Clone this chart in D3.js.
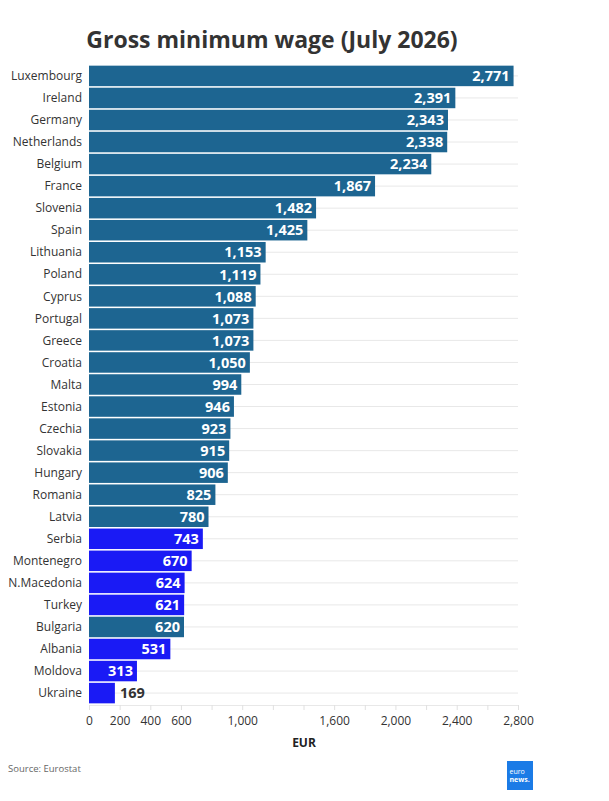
<!DOCTYPE html>
<html>
<head>
<meta charset="utf-8">
<script src="https://cdn.jsdelivr.net/npm/d3@7"></script>
<style>
  body { margin: 0; background: #fff; }
  text { font-family: "Open Sans", sans-serif; }
</style>
</head>
<body>
<svg></svg>
<script>
// chart data
var countries = ["Luxembourg", "Ireland", "Germany", "Netherlands", "Belgium", "France", "Slovenia", "Spain",
  "Lithuania", "Poland", "Cyprus", "Portugal", "Greece", "Croatia", "Malta", "Estonia", "Czechia", "Slovakia",
  "Hungary", "Romania", "Latvia", "Serbia", "Montenegro", "N.Macedonia", "Turkey", "Bulgaria", "Albania",
  "Moldova", "Ukraine"];
var wages = [2771, 2391, 2343, 2338, 2234, 1867, 1482, 1425, 1153, 1119, 1088, 1073, 1073, 1050, 994, 946,
  923, 915, 906, 825, 780, 743, 670, 624, 621, 620, 531, 313, 169];
var nonEU = ["Serbia", "Montenegro", "N.Macedonia", "Turkey", "Albania", "Moldova", "Ukraine"];
var tickValues = [0, 200, 400, 600, 800, 1000, 1200, 1400, 1600, 1800, 2000, 2200, 2400, 2600, 2800];
var tickLabels = [0, 200, 400, 600, 1000, 1600, 2000, 2400, 2800];

var width = 609, height = 801;
var margin = {top: 65, right: 91, bottom: 97, left: 89};

var svg = d3.select("svg")
    .attr("width", width)
    .attr("height", height);

var data = countries.map(function(c, i) { return {country: c, wage: wages[i]}; });

var x = d3.scaleLinear()
    .domain([0, 2800])
    .range([margin.left, width - margin.right]);

var y = d3.scaleBand()
    .domain(countries)
    .range([margin.top, height - margin.bottom])
    .paddingInner(0.07)
    .paddingOuter(0.03);

var fmt = d3.format(",");

// title
svg.append("text")
    .attr("x", 272)
    .attr("y", 48)
    .attr("text-anchor", "middle")
    .style("font-size", "23px")
    .style("font-weight", "bold")
    .style("fill", "#333")
    .text("Gross minimum wage (July 2026)");

// horizontal grid lines
svg.append("g")
  .selectAll("line")
  .data(countries)
  .enter()
  .append("line")
    .attr("x1", x(0))
    .attr("x2", x(2800))
    .attr("y1", function(d) { return y(d) + y.bandwidth() / 2; })
    .attr("y2", function(d) { return y(d) + y.bandwidth() / 2; })
    .style("stroke", "#e8e8e8")
    .style("stroke-width", 1);

// x axis
var xAxis = d3.axisBottom(x)
    .tickValues(tickValues)
    .tickSize(5)
    .tickFormat(function(d) { return tickLabels.indexOf(d) >= 0 ? fmt(d) : ""; });

var gx = svg.append("g")
    .attr("transform", "translate(0," + (height - margin.bottom + 1) + ")")
    .call(xAxis);
gx.select(".domain").style("stroke", "#e8e8e8");
gx.selectAll(".tick line").style("stroke", "#e0e0e0");
gx.selectAll(".tick text")
    .attr("y", 11)
    .style("font-size", "12px")
    .style("fill", "#333")
    .style("font-family", "'Open Sans', sans-serif");

// bars
svg.append("g")
  .selectAll("rect")
  .data(data)
  .enter()
  .append("rect")
    .attr("x", x(0))
    .attr("y", function(d) { return y(d.country); })
    .attr("width", function(d) { return x(d.wage) - x(0); })
    .attr("height", y.bandwidth())
    .style("fill", function(d) { return nonEU.indexOf(d.country) >= 0 ? "#1a1af5" : "#1d6591"; });

// country labels
svg.append("g")
  .selectAll("text")
  .data(data)
  .enter()
  .append("text")
    .attr("x", x(0) - 7)
    .attr("y", function(d) { return y(d.country) + y.bandwidth() / 2; })
    .attr("dy", "0.35em")
    .attr("text-anchor", "end")
    .style("font-size", "12px")
    .style("fill", "#333")
    .text(function(d) { return d.country; });

// value labels
svg.append("g")
  .selectAll("text")
  .data(data)
  .enter()
  .append("text")
    .attr("x", function(d) { return d.wage < 250 ? x(d.wage) + 5 : x(d.wage) - 4; })
    .attr("y", function(d) { return y(d.country) + y.bandwidth() / 2; })
    .attr("dy", "0.36em")
    .attr("text-anchor", function(d) { return d.wage < 250 ? "start" : "end"; })
    .style("font-size", "14.5px")
    .style("font-weight", "bold")
    .style("fill", function(d) { return d.wage < 250 ? "#333" : "#fff"; })
    .text(function(d) { return fmt(d.wage); });

// axis title
svg.append("text")
    .attr("x", 304)
    .attr("y", 747)
    .attr("text-anchor", "middle")
    .style("font-size", "12px")
    .style("font-weight", "bold")
    .style("fill", "#222")
    .text("EUR");

// source
svg.append("text")
    .attr("x", 8)
    .attr("y", 772)
    .style("font-size", "9.5px")
    .style("fill", "#666")
    .text("Source: Eurostat");

// euronews logo
var logo = svg.append("g").attr("transform", "translate(507,761)");
logo.append("rect")
    .attr("width", 26)
    .attr("height", 29)
    .style("fill", "#1b7be6");
logo.append("text")
    .attr("x", 2.5)
    .attr("y", 13)
    .style("font-size", "7px")
    .style("fill", "#fff")
    .text("euro");
logo.append("text")
    .attr("x", 2.5)
    .attr("y", 20.5)
    .style("font-size", "7px")
    .style("font-weight", "bold")
    .style("fill", "#fff")
    .text("news.");
</script>
</body>
</html>
